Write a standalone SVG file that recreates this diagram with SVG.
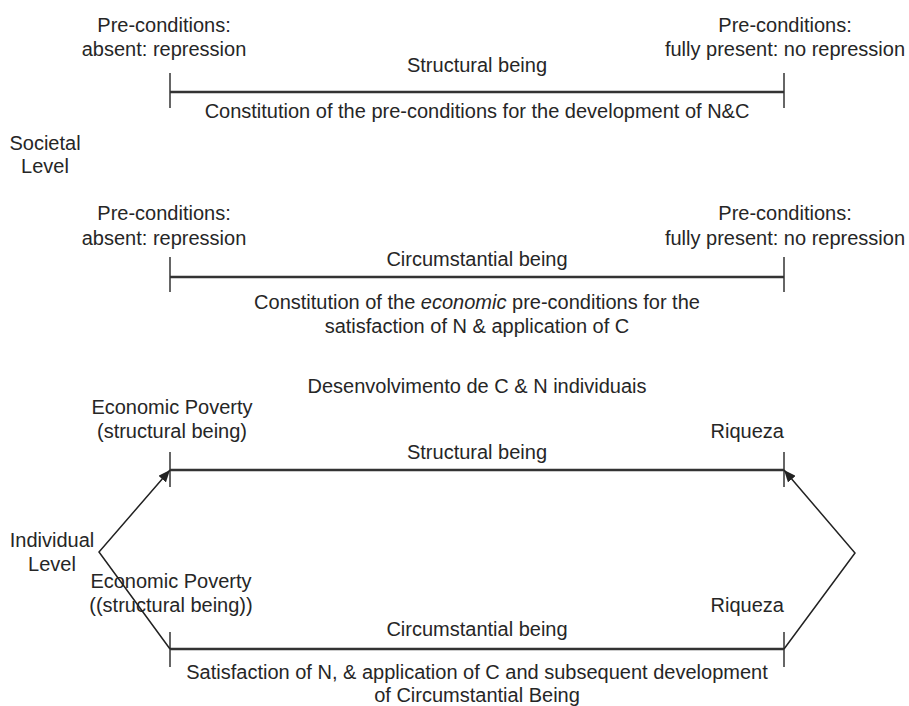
<svg xmlns="http://www.w3.org/2000/svg" width="909" height="706" viewBox="0 0 909 706">
<defs>
<style>
text{font-family:"Liberation Sans",Arial,sans-serif;font-size:20px;fill:#262626;}
.m{text-anchor:middle;}
.e{text-anchor:end;}
.bar{stroke:#333;stroke-width:2.5;fill:none;}
.tick{stroke:#333;stroke-width:1.5;fill:none;}
.con{stroke:#222;stroke-width:1.5;fill:none;}
</style>
<marker id="ah" viewBox="0 0 12 10" refX="12" refY="5" markerWidth="12" markerHeight="10" markerUnits="userSpaceOnUse" orient="auto">
<path d="M0,0 L12,5 L0,10 Z" fill="#222"/>
</marker>
</defs>
<rect width="909" height="706" fill="#fff"/>

<g id="societal-level">
<text class="m" x="45" y="150">Societal</text>
<text class="m" x="45" y="173">Level</text>
</g>

<g id="bar-structural-societal">
<line class="bar" x1="170" y1="92" x2="784" y2="92"/>
<line class="tick" x1="170" y1="73" x2="170" y2="108"/>
<line class="tick" x1="784" y1="73" x2="784" y2="108"/>
<text class="m" x="164" y="32">Pre-conditions:</text>
<text class="m" x="164" y="56">absent: repression</text>
<text class="m" x="785" y="32">Pre-conditions:</text>
<text class="m" x="785" y="56">fully present: no repression</text>
<text class="m" x="477" y="72">Structural being</text>
<text class="m" x="477" y="118">Constitution of the pre-conditions for the development of N&amp;C</text>
</g>

<g id="bar-circumstantial-societal">
<line class="bar" x1="170" y1="277" x2="784" y2="277"/>
<line class="tick" x1="170" y1="257" x2="170" y2="292"/>
<line class="tick" x1="784" y1="257" x2="784" y2="292"/>
<text class="m" x="164" y="220">Pre-conditions:</text>
<text class="m" x="164" y="245">absent: repression</text>
<text class="m" x="785" y="220">Pre-conditions:</text>
<text class="m" x="785" y="245">fully present: no repression</text>
<text class="m" x="477" y="266">Circumstantial being</text>
<text class="m" x="477" y="309">Constitution of the <tspan font-style="italic">economic</tspan> pre-conditions for the</text>
<text class="m" x="477" y="333">satisfaction of N &amp; application of C</text>
</g>

<g id="title-individual">
<text class="m" x="477" y="393">Desenvolvimento de C &amp; N individuais</text>
</g>

<g id="bar-structural-individual">
<line class="bar" x1="170" y1="470" x2="784" y2="470"/>
<line class="tick" x1="170" y1="452" x2="170" y2="487"/>
<line class="tick" x1="784" y1="452" x2="784" y2="487"/>
<text class="m" x="172" y="414">Economic Poverty</text>
<text class="m" x="172" y="438">(structural being)</text>
<text class="e" x="784" y="438">Riqueza</text>
<text class="m" x="477" y="459">Structural being</text>
</g>

<g id="individual-level">
<text class="m" x="52" y="547">Individual</text>
<text class="m" x="52" y="571">Level</text>
</g>

<g id="bar-circumstantial-individual">
<line class="bar" x1="170" y1="649" x2="784" y2="649"/>
<line class="tick" x1="170" y1="632" x2="170" y2="667"/>
<line class="tick" x1="784" y1="632" x2="784" y2="667"/>
<text class="m" x="171" y="588">Economic Poverty</text>
<text class="m" x="171" y="612">((structural being))</text>
<text class="e" x="784" y="612">Riqueza</text>
<text class="m" x="477" y="636">Circumstantial being</text>
<text class="m" x="477" y="679">Satisfaction of N, &amp; application of C and subsequent development</text>
<text class="m" x="477" y="702">of Circumstantial Being</text>
</g>

<g id="connectors">
<polyline class="con" points="170,649 99,552 170,470" marker-end="url(#ah)"/>
<polyline class="con" points="784,649 855,553 784,470" marker-end="url(#ah)"/>
</g>
</svg>
